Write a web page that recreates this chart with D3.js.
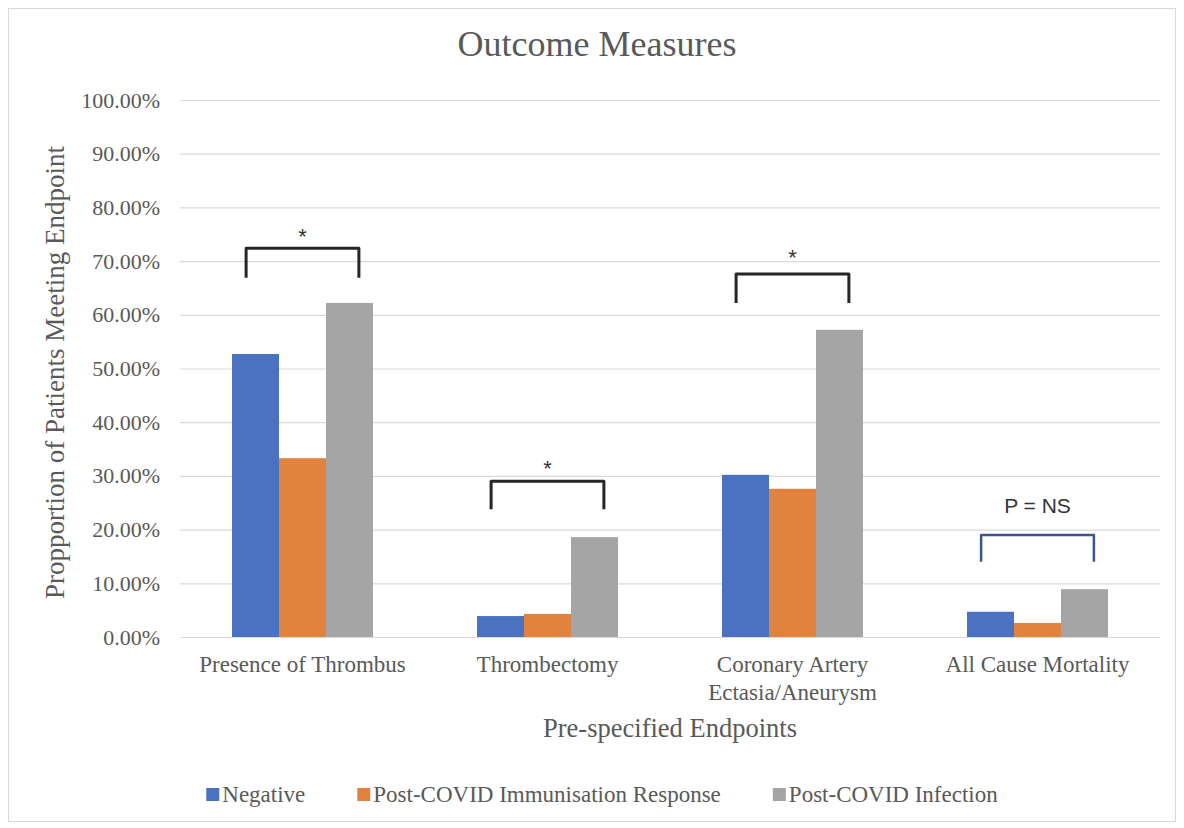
<!DOCTYPE html>
<html>
<head>
<meta charset="utf-8">
<script src="https://cdn.jsdelivr.net/npm/d3@7"></script>
<style>
  body { margin: 0; background: #fff; }
  svg { display: block; }
</style>
</head>
<body>
<div id="chart"></div>
<script>
// Data
const categories = ['Presence of Thrombus', 'Thrombectomy', 'Coronary Artery\nEctasia/Aneurysm', 'All Cause Mortality'];
const seriesNames = ['Negative', 'Post-COVID Immunisation Response', 'Post-COVID Infection'];
const negative = [0.527, 0.039, 0.302, 0.047];
const immunisation = [0.333, 0.043, 0.276, 0.026];
const infection = [0.622, 0.186, 0.572, 0.089];
const yTicks = [0, 0.1, 0.2, 0.3, 0.4, 0.5, 0.6, 0.7, 0.8, 0.9, 1.0];

// Significance brackets (values on the y scale)
const bracketTop = [0.724, 0.290, 0.676, 0.190];
const bracketLeg = [0.669, 0.238, 0.622, 0.140];
const bracketLabel = ['*', '*', '*', 'P = NS'];
const bracketLabelY = [0.754, 0.322, 0.715, 0.246];
const bracketColor = ['#262626', '#262626', '#262626', '#3a5590'];

const colors = ['#4a72c0', '#e0833f', '#a5a5a5'];
const serif = '"Liberation Serif", "Times New Roman", serif';

const W = 1184, H = 828;
const margin = { top: 100, right: 24, bottom: 191, left: 180 };
const width = W - margin.left - margin.right;
const height = H - margin.top - margin.bottom;

const svg = d3.select('#chart').append('svg')
    .attr('width', W).attr('height', H);

// chart-area border
svg.append('rect')
    .attr('x', 8.5).attr('y', 8.5)
    .attr('width', W - 17).attr('height', H - 15)
    .attr('fill', 'none').attr('stroke', '#d9d9d9');

const g = svg.append('g').attr('transform', `translate(${margin.left},${margin.top})`);

const x0 = d3.scaleBand().domain(categories).range([0, width])
    .paddingInner(0.4245).paddingOuter(0.21225);
const x1 = d3.scaleBand().domain(seriesNames).range([0, x0.bandwidth()]);
const y = d3.scaleLinear().domain([0, 1]).range([height, 0]);

// y axis + gridlines
const yAxis = g.append('g')
    .call(d3.axisLeft(y).tickValues(yTicks).tickFormat(d3.format('.2%'))
        .tickSize(-width).tickPadding(20));
yAxis.select('.domain').remove();
yAxis.selectAll('line').attr('stroke', '#d9d9d9').attr('stroke-width', 1.2);
yAxis.selectAll('text')
    .attr('fill', '#595959').attr('font-family', serif).attr('font-size', '22px');

// bars
const rows = categories.map((c, i) => ({ cat: c, vals: [negative[i], immunisation[i], infection[i]] }));
const groups = g.selectAll('.grp').data(rows).join('g')
    .attr('class', 'grp')
    .attr('transform', d => `translate(${x0(d.cat)},0)`);
groups.selectAll('rect')
    .data(d => d.vals.map((v, k) => ({ name: seriesNames[k], v, k })))
    .join('rect')
    .attr('x', d => x1(d.name))
    .attr('y', d => y(d.v))
    .attr('width', x1.bandwidth())
    .attr('height', d => height - y(d.v))
    .attr('fill', d => colors[d.k]);

// x axis labels
const xAxis = g.append('g').attr('transform', `translate(0,${height})`)
    .call(d3.axisBottom(x0).tickSize(0).tickPadding(0));
xAxis.select('.domain').remove();
xAxis.selectAll('text').each(function (d) {
    const t = d3.select(this);
    t.text(null).attr('y', 35).attr('dy', null)
        .attr('fill', '#595959').attr('font-family', serif).attr('font-size', '23px');
    d.split('\n').forEach((line, i) => {
        t.append('tspan').attr('x', 0).attr('dy', i === 0 ? 0 : 28).text(line);
    });
});

// brackets
const bw = x0.bandwidth();
categories.forEach((c, i) => {
    const xa = x0(c) + bw * 0.1, xb = x0(c) + bw * 0.9;
    g.append('path')
        .attr('d', `M${xa},${y(bracketLeg[i])}V${y(bracketTop[i])}H${xb}V${y(bracketLeg[i])}`)
        .attr('fill', 'none')
        .attr('stroke', bracketColor[i])
        .attr('stroke-width', i === 3 ? 2.5 : 3)
        .attr('stroke-linejoin', 'round');
    const isStar = bracketLabel[i] === '*';
    g.append('text')
        .attr('x', x0(c) + bw / 2)
        .attr('y', y(bracketLabelY[i]) + (isStar ? 12 : 8))
        .attr('text-anchor', 'middle')
        .attr('fill', '#333')
        .attr('font-family', '"Liberation Sans", Arial, sans-serif')
        .attr('font-size', isStar ? '22px' : '21px')
        .text(bracketLabel[i]);
});

// title
svg.append('text')
    .attr('x', 597).attr('y', 56)
    .attr('text-anchor', 'middle')
    .attr('fill', '#595959').attr('font-family', serif).attr('font-size', '36px')
    .text('Outcome Measures');

// axis titles
svg.append('text')
    .attr('x', margin.left + width / 2).attr('y', 737)
    .attr('text-anchor', 'middle')
    .attr('fill', '#595959').attr('font-family', serif).attr('font-size', '26.5px')
    .text('Pre-specified Endpoints');

svg.append('text')
    .attr('transform', `translate(64,${margin.top + height / 2 + 4}) rotate(-90)`)
    .attr('text-anchor', 'middle')
    .attr('fill', '#595959').attr('font-family', serif).attr('font-size', '27px')
    .text('Propportion of Patients Meeting Endpoint');

// legend
const gap = 52;
const legend = svg.append('g');
let lx = 0;
seriesNames.forEach((name, k) => {
    const item = legend.append('g').attr('transform', `translate(${lx},0)`);
    item.append('rect').attr('x', 0).attr('y', -14).attr('width', 13).attr('height', 13)
        .attr('fill', colors[k]);
    const t = item.append('text').attr('x', 16).attr('y', 0)
        .attr('fill', '#595959').attr('font-family', serif).attr('font-size', '23px')
        .text(name);
    lx += 16 + t.node().getComputedTextLength() + gap;
});
const legendW = lx - gap;
legend.attr('transform', `translate(${602 - legendW / 2},802)`);
</script>
</body>
</html>
